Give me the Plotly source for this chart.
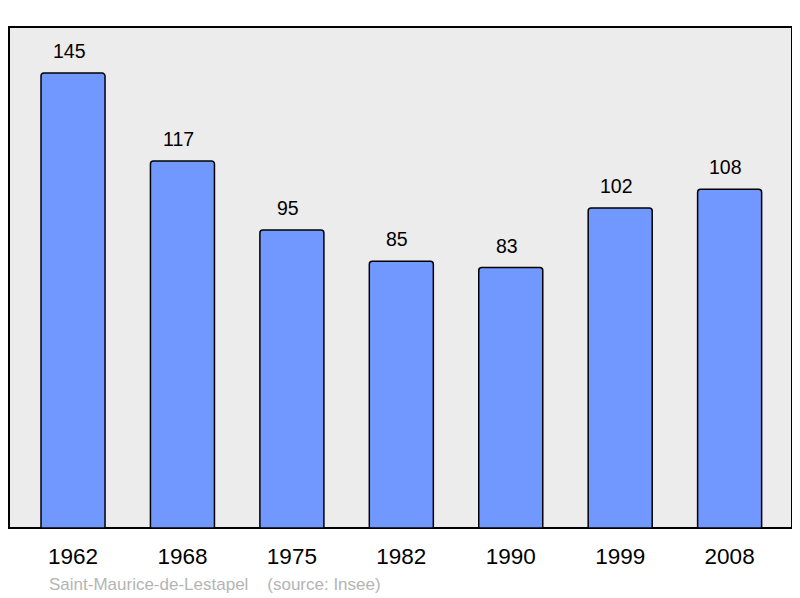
import plotly.graph_objects as go

# population data
years = ["1962", "1968", "1975", "1982", "1990", "1999", "2008"]
population = [145, 117, 95, 85, 83, 102, 108]
commune = "Saint-Maurice-de-Lestapel"
source = "(source: Insee)"

fig = go.Figure()

fig.add_trace(go.Bar(
	x=years,
	y=population,
	width=0.585,
	marker=dict(color="#7098ff", line=dict(color="black", width=1.5), cornerradius=3),
))

# value labels above the bars (category axis -> position by index)
for i, val in enumerate(population):
	fig.add_annotation(x=i, y=val, xref="x", yref="y", text=str(val), showarrow=False,
		yanchor="bottom", yshift=9, xshift=-4, font=dict(size=19.5, color="black"))

fig.add_annotation(xref="paper", yref="paper", x=0.048, y=-0.112,
	xanchor="left", yanchor="middle", showarrow=False,
	text=commune + "\u00a0\u00a0\u00a0\u00a0" + source, font=dict(size=17, color="#b4b4b4"))

# frame of the plot area
fig.add_shape(type="rect", xref="paper", yref="paper", x0=0, x1=1, y0=0, y1=1,
	line=dict(color="black", width=2), fillcolor="#ececec", layer="below")

# page body has an 8px margin, so the figure is a bit smaller
fig.update_layout(
	width=792, height=590,
	margin=dict(l=1, r=8, t=19, b=70),
	paper_bgcolor="white",
	plot_bgcolor="rgba(0,0,0,0)",
	font=dict(family="Liberation Sans, Arial, sans-serif", color="black"),
	showlegend=False,
	xaxis=dict(type="category", range=[-0.585, 6.57], showgrid=False, zeroline=False,
		showline=False, ticks="", tickfont=dict(size=22.5), ticklabelstandoff=12),
	yaxis=dict(range=[0, 159.7], showgrid=False, zeroline=False, showline=False,
		showticklabels=False, ticks=""),
)

fig.write_html("out.html")
